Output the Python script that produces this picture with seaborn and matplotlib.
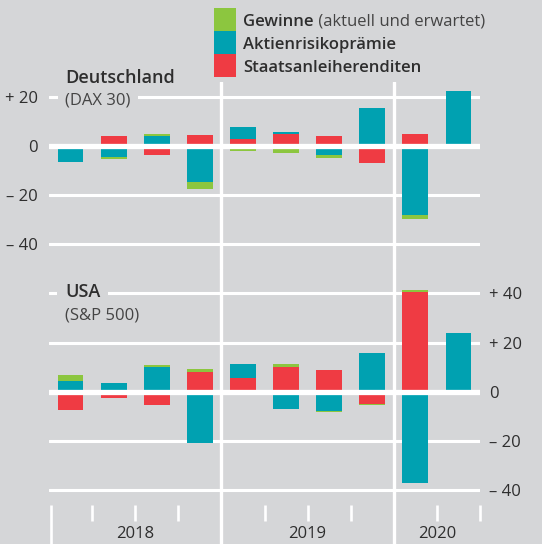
import numpy as np
import pandas as pd
import matplotlib.pyplot as plt
import seaborn as sns
from matplotlib.patches import Rectangle

# Quartale Q1 2018 .. Q2 2020, Beiträge in Prozentpunkten
quarters = ["Q1 2018", "Q2 2018", "Q3 2018", "Q4 2018",
            "Q1 2019", "Q2 2019", "Q3 2019", "Q4 2019",
            "Q1 2020", "Q2 2020"]
years = ["2018", "2019", "2020"]

de_gewinne = [0, -1.0, 0.9, -2.7, -2.1, -3.0, -1.0, -0.2, -1.3, 0]
de_aktien = [-6.7, -4.5, 4.1, -14.8, 4.9, 0.8, -3.9, 15.2, -28.3, 22.3]
de_anleihen = [0, 3.9, -3.9, 4.2, 2.6, 4.8, 3.9, -6.8, 4.8, 0]

us_gewinne = [2.7, 0, 0.8, 0.9, 0, 1.2, -0.5, -0.3, 0.7, -1.3]
us_aktien = [4.3, 3.5, 10.1, -20.7, 5.7, -7.0, -7.8, 15.7, -37.2, 23.7]
us_anleihen = [-7.4, -2.6, -5.5, 8.2, 5.7, 9.9, 8.8, -5.1, 40.6, 0]

de_ticks = [20, 0, -20, -40]
de_ticklabels = ["+ 20", "0", "– 20", "– 40"]
us_ticks = [40, 20, 0, -20, -40]
us_ticklabels = ["+ 40", "+ 20", "0", "– 20", "– 40"]

bg = "#d5d6d8"
txt = "#2e2e2e"
grau = "#444444"
farben = {"gewinne": "#8cc63f", "aktien": "#00a1b1", "anleihen": "#ef3b43"}
namen = {"gewinne": "Gewinne", "aktien": "Aktienrisikoprämie",
         "anleihen": "Staatsanleiherenditen"}

sns.set_style("white", {"axes.facecolor": bg, "figure.facecolor": bg})
plt.rcParams["font.family"] = ["Open Sans", "DejaVu Sans"]

W, H = 542, 544
fig = plt.figure(figsize=(W / 100, H / 100), dpi=100)
ppu = 2.46  # pixel pro Prozentpunkt
x0, x1 = 49, 480
split = 268.8


def px_axes(top, bottom):
    return fig.add_axes([x0 / W, 1 - bottom / H, (x1 - x0) / W, (bottom - top) / H])


ax_de = px_axes(split - 76 * ppu, split)
ax_us = px_axes(split, split + 112 * ppu)


def draw_panel(ax, gewinne, aktien, anleihen):
    df = pd.DataFrame({"quartal": quarters, "anleihen": anleihen,
                       "aktien": aktien, "gewinne": gewinne})
    cols = ["anleihen", "aktien", "gewinne"]  # von innen nach aussen
    # positive und negative Teile getrennt stapeln, aussen zuerst zeichnen
    for part in (df[cols].clip(lower=0), df[cols].clip(upper=0)):
        cum = part.cumsum(axis=1)
        for c in cols[::-1]:
            sns.barplot(x=df["quartal"], y=cum[c], color=farben[c],
                        saturation=1, width=0.6, errorbar=None,
                        linewidth=0, ax=ax)
    ax.set_xlim(-0.5, len(quarters) - 0.5)
    ax.set_xlabel("")
    ax.set_ylabel("")
    ax.set_xticks([])
    ax.set_axisbelow(True)
    ax.grid(axis="y", color="white", lw=2.2)
    ax.grid(axis="x", visible=False)
    ax.axhline(0, color="white", lw=3.8, zorder=3)
    for xv in (3.5, 7.5):
        ax.axvline(xv, color="white", lw=2.4, zorder=0.6)
    sns.despine(ax=ax, left=True, bottom=True)
    ax.tick_params(axis="y", length=0, labelsize=12, labelcolor=txt)


draw_panel(ax_de, de_gewinne, de_aktien, de_anleihen)
ax_de.set_ylim(-50, 26)
ax_de.set_yticks(de_ticks)
ax_de.set_yticklabels(de_ticklabels)
ax_de.tick_params(axis="y", pad=8)

draw_panel(ax_us, us_gewinne, us_aktien, us_anleihen)
ax_us.set_ylim(-62, 50)
ax_us.set_yticks(us_ticks)
ax_us.set_yticklabels(us_ticklabels)
ax_us.yaxis.tick_right()
ax_us.tick_params(axis="y", pad=6.5)

# Quartalsstriche und Jahre unten
qt = [0.5, 1.5, 2.5, 4.5, 5.5, 6.5, 8.5, 9.5]
ax_us.vlines(qt, -46, -52.5, color="white", lw=1.9, clip_on=False)
ax_us.vlines([-0.45], -46, -62, color="white", lw=1.9, clip_on=False)
for xv, y in zip([1.5, 5.5, 8.5], years):
    ax_us.text(xv, -59.5, y, ha="center", va="baseline", fontsize=12,
               color=txt, clip_on=False)


def ftext(x, y, s, **kw):
    kw.setdefault("color", txt)
    return fig.text(x / W, 1 - y / H, s, va="baseline", ha="left", **kw)


box = dict(boxstyle="square,pad=0.45", fc=bg, ec="none")
ftext(65, 82.7, "Deutschland", fontsize=13, fontweight="semibold")
ftext(65, 104.5, "(DAX 30)", fontsize=12, color=grau, bbox=box)
ftext(65, 297.3, "USA", fontsize=13, fontweight="semibold", bbox=box)
ftext(65, 320, "(S&P 500)", fontsize=12, color=grau)

# Legende
for i, c in enumerate(["gewinne", "aktien", "anleihen"]):
    top = 8 + i * 23
    fig.add_artist(Rectangle((214 / W, 1 - (top + 23) / H), 22 / W, 23 / H,
                             transform=fig.transFigure, fc=farben[c], ec="none"))
    t = ftext(243, top + 18, namen[c], fontsize=12, fontweight="semibold")
    if c == "gewinne":
        ax_de.annotate(" (aktuell und erwartet)", xy=(1, 0), xycoords=t,
                       va="bottom", ha="left", fontsize=12, color=grau,
                       annotation_clip=False)

fig.savefig("out.png", dpi=100, facecolor=bg)
